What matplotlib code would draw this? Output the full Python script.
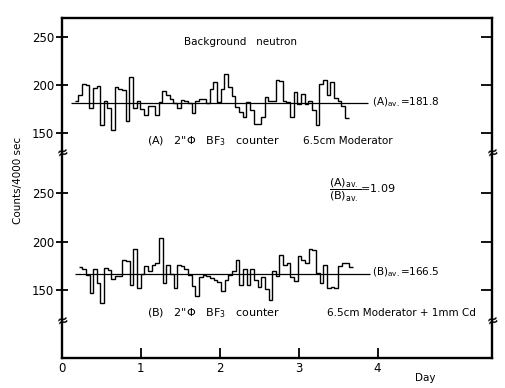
import numpy as np
import matplotlib.pyplot as plt

plt.rcParams['font.family'] = ['DejaVu Sans']
plt.rcParams['mathtext.fontset'] = 'dejavusans'

# counts per 4000 sec
counts_a = [183, 190, 201, 200, 176, 197, 199, 159, 183, 176,
            154, 198, 196, 195, 163, 208, 176, 183, 175, 169,
            178, 178, 169, 182, 194, 190, 186, 181, 176, 185,
            183, 181, 171, 184, 186, 186, 181, 196, 203, 182,
            196, 211, 198, 189, 177, 172, 167, 182, 174, 160,
            160, 167, 188, 184, 183, 205, 204, 183, 182, 167,
            193, 180, 191, 180, 183, 174, 159, 201, 205, 190,
            203, 187, 184, 178, 166]
counts_b = [174, 172, 165, 147, 172, 157, 137, 173, 171, 161,
            164, 164, 181, 180, 155, 192, 152, 167, 175, 170,
            176, 178, 204, 157, 176, 167, 152, 176, 175, 172,
            166, 154, 144, 163, 166, 164, 162, 160, 158, 149,
            160, 165, 170, 181, 155, 172, 155, 172, 160, 153,
            163, 151, 140, 170, 164, 186, 176, 178, 163, 159,
            185, 181, 178, 192, 191, 168, 157, 176, 152, 153,
            152, 175, 178, 178, 174]
avg_a = 181.8
avg_b = 166.5
ratio = 1.09

bin_day = 4000 / 86400.0
start_a = 0.16
start_b = 0.21
span_a = (0.11, 3.88)
span_b = (0.16, 3.91)
day_ticks = [0, 1, 2, 3, 4]
count_ticks = [150, 200, 250]

W, H = 505, 388


def fx(px):
    return px / W


def fy(py):
    return 1 - py / H


left, right, top, bottom = 62, 492, 18, 358
brk1, brk2 = 152, 320

fig = plt.figure(figsize=(5.05, 3.88), dpi=100)

frame = fig.add_axes([fx(left), fy(bottom), fx(right) - fx(left), fy(top) - fy(bottom)])
frame.set_xlim(0, 5.45)
frame.set_ylim(0, 1)
frame.set_yticks([])
frame.set_xticks(day_ticks)
frame.tick_params(axis='x', direction='in', length=7, width=1.3, labelsize=8.5, pad=3)
for s in frame.spines.values():
    s.set_linewidth(1.7)


def panel(y0, y1, ylo, yhi):
    ax = fig.add_axes([fx(left), fy(y1), fx(right) - fx(left), fy(y0) - fy(y1)])
    ax.set_xlim(0, 5.45)
    ax.patch.set_visible(False)
    for s in ax.spines.values():
        s.set_visible(False)
    ax.set_ylim(ylo, yhi)
    ax.set_yticks(count_ticks)
    ax.tick_params(axis='y', direction='inout', length=9, width=1.3, labelsize=8.5, pad=1)
    ax.tick_params(axis='x', bottom=False, labelbottom=False)
    axr = ax.twinx()
    axr.patch.set_visible(False)
    for s in axr.spines.values():
        s.set_visible(False)
    axr.set_ylim(ylo, yhi)
    axr.set_yticks(count_ticks)
    axr.tick_params(axis='y', direction='in', length=8, width=1.3, labelright=False)
    return ax


axA = panel(top, brk1, 130.9, 269.1)
axB = panel(brk1, brk2, 119.1, 292.3)

edges_a = start_a + bin_day * np.arange(len(counts_a) + 1)
edges_b = start_b + bin_day * np.arange(len(counts_b) + 1)
axA.stairs(counts_a, edges_a, baseline=None, color='black', lw=1.0)
axB.stairs(counts_b, edges_b, baseline=None, color='black', lw=1.0)
axA.hlines(avg_a, *span_a, color='black', lw=0.9)
axB.hlines(avg_b, *span_b, color='black', lw=0.9)

fs = 7.5
fig.text(fx(240), fy(42), "Background   neutron", ha='center', va='center', fontsize=fs)
fig.text(fx(147), fy(141), "(A)   2\"\u03a6   BF$_3$   counter", ha='left', va='center', fontsize=8)
fig.text(fx(303), fy(141), "6.5cm Moderator", ha='left', va='center', fontsize=fs)
fig.text(fx(372), fy(102), "(A)$_{\\mathrm{av.}}$=%.1f" % avg_a, ha='left', va='center', fontsize=fs)
fig.text(fx(372), fy(272), "(B)$_{\\mathrm{av.}}$=%.1f" % avg_b, ha='left', va='center', fontsize=fs)
fig.text(fx(329), fy(190),
         "$\\dfrac{(\\mathrm{A})_{\\mathrm{av.}}}{(\\mathrm{B})_{\\mathrm{av.}}}$=%.2f" % ratio,
         ha='left', va='center', fontsize=8)
fig.text(fx(147), fy(313), "(B)   2\"\u03a6   BF$_3$   counter", ha='left', va='center', fontsize=8)
fig.text(fx(327), fy(313), "6.5cm Moderator + 1mm Cd", ha='left', va='center', fontsize=fs)
fig.text(fx(18), fy(180), "Counts/4000 sec", rotation=90, ha='center', va='center', fontsize=fs)
fig.text(fx(425), fy(378), "Day", ha='center', va='center', fontsize=fs)

# axis break marks on both side spines
for xb in (left, right):
    for yb in (brk1, brk2):
        fig.text(fx(xb), fy(yb), "\u2248", ha='center', va='center', fontsize=10,
                 fontweight='bold', rotation=15)

fig.savefig("out.png", dpi=100)
